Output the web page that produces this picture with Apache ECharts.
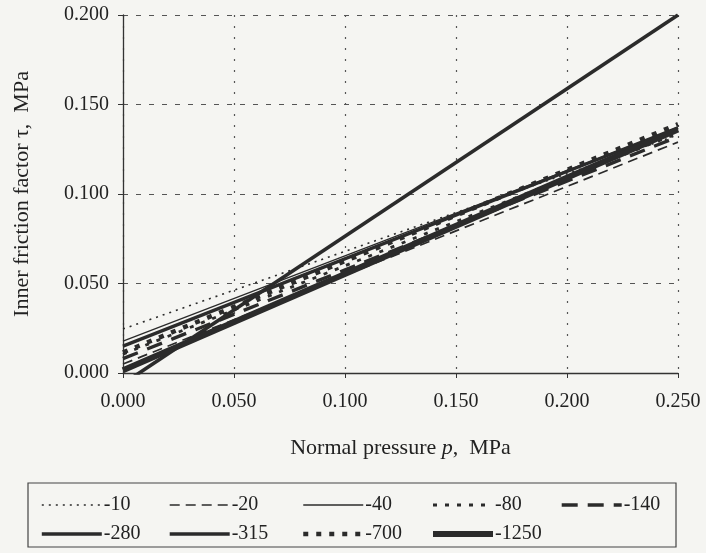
<!DOCTYPE html>
<html>
<head>
<meta charset="utf-8">
<title>Inner friction factor vs normal pressure</title>
<script src="https://cdn.jsdelivr.net/npm/echarts@6/dist/echarts.min.js"></script>
<style>
  html, body { margin: 0; padding: 0; background: #f5f5f2; }
  #chart { width: 706px; height: 553px; }
</style>
</head>
<body>
<div id="chart"></div>
<script>
// normal pressure p, MPa (ends of each fitted line)
var pressure = [0, 0.25];
// series names as in the legend
var names = ['-10', '-20', '-40', '-80', '-140', '-280', '-315', '-700', '-1250'];
// inner friction factor tau, MPa at p = 0 and p = 0.25
var tau10   = [0.0246, 0.1330];
var tau20   = [0.0050, 0.1290];
var tau40   = [0.0178, 0.1370];
var tau80   = [0.0105, 0.1340];
var tau140  = [0.0080, 0.1320];
var tau280  = [-0.0060, 0.2000];
var tau315  = [0.0150, 0.1370];
var tau700  = [0.0115, 0.1390];
var tau1250 = [0.0015, 0.1360];

var ink = '#2b2b2b';
var styles = {
    '-10':   { width: 1.6, type: [2, 5] },
    '-20':   { width: 1.7, type: [10, 6] },
    '-40':   { width: 1.3, type: 'solid' },
    '-80':   { width: 2.8, type: [4, 8] },
    '-140':  { width: 3.4, type: [16, 10] },
    '-280':  { width: 3.6, type: 'solid' },
    '-315':  { width: 3.4, type: 'solid' },
    '-700':  { width: 4.5, type: [5, 8] },
    '-1250': { width: 6, type: 'solid' }
};
var values = {
    '-10': tau10, '-20': tau20, '-40': tau40, '-80': tau80, '-140': tau140,
    '-280': tau280, '-315': tau315, '-700': tau700, '-1250': tau1250
};

var chart = echarts.init(document.getElementById('chart'));

var series = names.map(function (n) {
    return {
        name: n,
        type: 'line',
        symbol: 'none',
        clip: true,
        silent: true,
        itemStyle: { color: ink },
        lineStyle: { color: ink, width: styles[n].width, type: styles[n].type },
        data: pressure.map(function (p, i) { return [p, values[n][i]]; })
    };
});

// legend columns, two rows each
var columns = [['-10', '-280'], ['-20', '-315'], ['-40', '-700'], ['-80', '-1250'], ['-140']];
var colLeft = [35, 163, 296, 425, 555];
var legends = columns.map(function (col, c) {
    return {
        left: colLeft[c],
        top: 490,
        orient: 'vertical',
        itemWidth: 60,
        itemHeight: 14,
        itemGap: 9,
        selectedMode: false,
        textStyle: { fontFamily: 'Liberation Serif', fontSize: 20, color: '#222', padding: [0, 0, 0, -3] },
        data: col.map(function (n) {
            return {
                name: n,
                itemStyle: { color: 'rgba(0,0,0,0)', borderColor: 'rgba(0,0,0,0)', borderWidth: 0 },
                lineStyle: { color: ink, width: styles[n].width, type: styles[n].type }
            };
        })
    };
});

var option = {
    backgroundColor: '#f5f5f2',
    animation: false,
    grid: { left: 123, right: 28, top: 15, bottom: 180 },
    legend: legends,
    graphic: [{
        type: 'rect',
        shape: { x: 28, y: 483, width: 648, height: 64 },
        style: { fill: 'none', stroke: '#444', lineWidth: 1.2 }
    }],
    xAxis: {
        type: 'value',
        min: 0, max: 0.25, interval: 0.05,
        name: '{n|Normal pressure }{i|p}{n|,  MPa}',
        nameLocation: 'middle',
        nameGap: 64,
        nameTextStyle: {
            rich: {
                n: { fontFamily: 'Liberation Serif', fontSize: 22, color: '#222' },
                i: { fontFamily: 'Liberation Serif', fontSize: 22, color: '#222', fontStyle: 'italic' }
            }
        },
        axisLine: { lineStyle: { color: '#333', width: 1.3 } },
        axisTick: { show: true, length: 5, lineStyle: { color: '#333' } },
        axisLabel: {
            margin: 19,
            fontFamily: 'Liberation Serif', fontSize: 20, color: '#222',
            formatter: function (v) { return v.toFixed(3); }
        },
        splitLine: { show: true, lineStyle: { color: '#555', type: [2, 9], width: 1.2 } }
    },
    yAxis: {
        type: 'value',
        min: 0, max: 0.2, interval: 0.05,
        name: 'Inner friction factor τ,  MPa',
        nameLocation: 'middle',
        nameGap: 90,
        nameTextStyle: { fontFamily: 'Liberation Serif', fontSize: 22, color: '#222' },
        axisLine: { show: true, lineStyle: { color: '#333', width: 1.3 } },
        axisTick: { show: true, length: 5, lineStyle: { color: '#333' } },
        axisLabel: {
            margin: 14,
            fontFamily: 'Liberation Serif', fontSize: 20, color: '#222',
            formatter: function (v) { return v.toFixed(3); }
        },
        splitLine: { show: true, lineStyle: { color: '#555', type: [5, 8], width: 1.1 } }
    },
    series: series
};

chart.setOption(option);
</script>
</body>
</html>
